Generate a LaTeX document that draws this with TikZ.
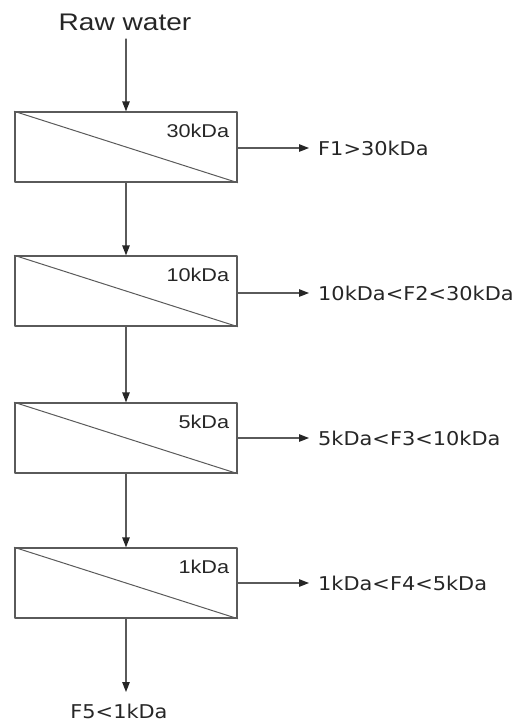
\documentclass[tikz,border=0pt]{standalone}
\usepackage{fontspec}
\setmainfont{Liberation Sans}
\newfontfamily\cutfont[FakeStretch=1.17]{Liberation Sans}
\newfontfamily\fracfont[FakeStretch=1.1]{DejaVu Sans}
\usetikzlibrary{arrows.meta, calc, positioning}
\definecolor{lngray}{HTML}{5A5A5A}
\definecolor{txgray}{HTML}{262626}
\tikzset{
  >={Triangle[length=10pt, width=7.5pt, color=black!85]},
  every picture/.style={line cap=round, line join=round},
  flow/.style={->, draw=lngray, line width=1.3pt},
  membrane/.style={draw=lngray, line width=1.3pt, minimum width=222pt, minimum height=70pt, inner sep=0pt},
  cutoff/.style={anchor=base east, text=txgray, font=\cutfont\fontsize{18.5}{18.5}\selectfont},
  fraction/.style={anchor=west, inner sep=0pt, text=txgray, font=\fracfont\fontsize{19}{19}\selectfont},
}

\begin{document}
\begin{tikzpicture}[x=1pt, y=-1pt]
  \useasboundingbox (0,0) rectangle (523,724);
  % ---- feed
  \node[anchor=base, text=txgray, font=\cutfont\fontsize{24}{24}\selectfont] (raw) at (125,30) {Raw water};
  \coordinate (feed) at (126,39);
  % ---- membrane stages (top to bottom)
  \node[membrane] (m1) at (126,147) {};
  \node[membrane] (m2) at (126,291) {};
  \node[membrane] (m3) at (126,438) {};
  \node[membrane] (m4) at (126,583) {};
  \foreach \m/\cut in {m1/30kDa, m2/10kDa, m3/5kDa, m4/1kDa}{
    \draw[lngray, line width=1pt] (\m.north west) -- (\m.south east);
    \node[cutoff] (\m-cut) at ([xshift=-5pt, yshift=-26pt]\m.north east) {\cut};
  }
  % ---- retentate fractions
  \node[fraction] (f1) at (318,148) {F1>30kDa};
  \node[fraction] (f2) at (318,293) {10kDa<F2<30kDa};
  \node[fraction] (f3) at (318,438) {5kDa<F3<10kDa};
  \node[fraction] (f4) at (318,583) {1kDa<F4<5kDa};
  \node[anchor=base, inner sep=0pt, text=txgray, font=\fracfont\fontsize{19}{19}\selectfont] (f5) at (119,718) {F5<1kDa};
  \coordinate (out) at (126,692);
  % ---- connectors
  \draw[flow] (feed) -- (m1.north);
  \draw[flow] (m1.south) -- (m2.north);
  \draw[flow] (m2.south) -- (m3.north);
  \draw[flow] (m3.south) -- (m4.north);
  \draw[flow] (m4.south) -- (out);
  \foreach \i in {1,...,4}{
    \draw[flow, shorten >=9pt] (m\i.east |- f\i.west) -- (f\i.west);
  }
\end{tikzpicture}
\end{document}
